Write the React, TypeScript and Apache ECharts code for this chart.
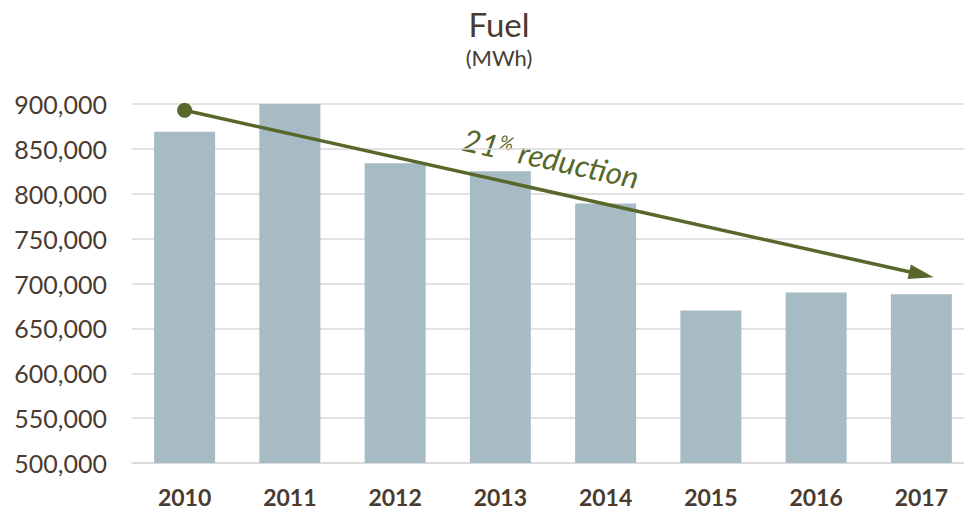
import React, { useEffect, useRef } from "react";
import * as echarts from "echarts";

const years = ["2010", "2011", "2012", "2013", "2014", "2015", "2016", "2017"];
const fuelMWh = [869000, 900000, 834000, 825000, 789000, 670000, 690000, 688000];
const trendStart = { year: "2010", value: 893000 };
const trendEnd = { year: "2017", value: 710000 };

const TEXT = "#4a3b30";
const OLIVE = "#58672a";
const FONT = "Lato, 'Open Sans', sans-serif";

export default function App() {
  const ref = useRef<HTMLDivElement>(null);
  useEffect(() => {
    document.body.style.margin = "0";
    document.body.style.overflow = "hidden";
    const chart = echarts.init(ref.current!, null, { renderer: "svg" });
    chart.setOption({
      animation: false,
      textStyle: { fontFamily: FONT },
      grid: { left: 132, right: 0, top: 104, bottom: 53, containLabel: false },
      xAxis: {
        type: "category",
        data: years,
        axisLine: { lineStyle: { color: "#d9d9d9", width: 1.5 } },
        axisTick: { show: false },
        axisLabel: { color: TEXT, fontSize: 23, fontWeight: "bold", margin: 22, fontFamily: FONT },
      },
      yAxis: {
        type: "value",
        min: 500000,
        max: 900000,
        interval: 50000,
        axisLine: { show: false },
        axisTick: { show: false },
        splitLine: { lineStyle: { color: "#d9d9d9", width: 1.5 } },
        axisLabel: {
          color: TEXT,
          fontSize: 25,
          margin: 25,
          fontFamily: FONT,
          formatter: (v: number) => v.toLocaleString("en-US"),
        },
      },
      series: [
        {
          type: "bar",
          data: fuelMWh,
          barWidth: 61,
          itemStyle: { color: "#a7bbc5" },
          markLine: {
            silent: true,
            symbol: ["circle", "triangle"],
            symbolSize: [15, 25],
            label: { show: false },
            lineStyle: { color: OLIVE, width: 3.5, type: "solid" },
            itemStyle: { color: OLIVE },
            data: [
              [
                { coord: [trendStart.year, trendStart.value] },
                { coord: [trendEnd.year, trendEnd.value] },
              ],
            ],
          },
        },
      ],
      graphic: [
        {
          type: "text",
          x: 499,
          y: 24,
          style: {
            text: "Fuel",
            align: "center",
            verticalAlign: "middle",
            fill: TEXT,
            fontSize: 33,
            fontFamily: FONT,
          },
        },
        {
          type: "text",
          x: 499,
          y: 57,
          style: {
            text: "(MWh)",
            align: "center",
            verticalAlign: "middle",
            fill: TEXT,
            fontSize: 22,
            fontFamily: FONT,
          },
        },
        {
          type: "text",
          x: 551,
          y: 158,
          rotation: (-12.5 * Math.PI) / 180,
          style: {
            text: "{a|21}{b|%}{a| reduction}",
            align: "center",
            verticalAlign: "middle",
            fill: OLIVE,
            rich: {
              a: { fontSize: 31, fontStyle: "italic", fill: OLIVE, fontFamily: FONT },
              b: { fontSize: 19, fontStyle: "italic", fill: OLIVE, fontFamily: FONT, verticalAlign: "top" },
            },
          },
        },
      ],
    });
    return () => chart.dispose();
  }, []);
  return <div ref={ref} style={{ width: 974, height: 516 }} />;
}
